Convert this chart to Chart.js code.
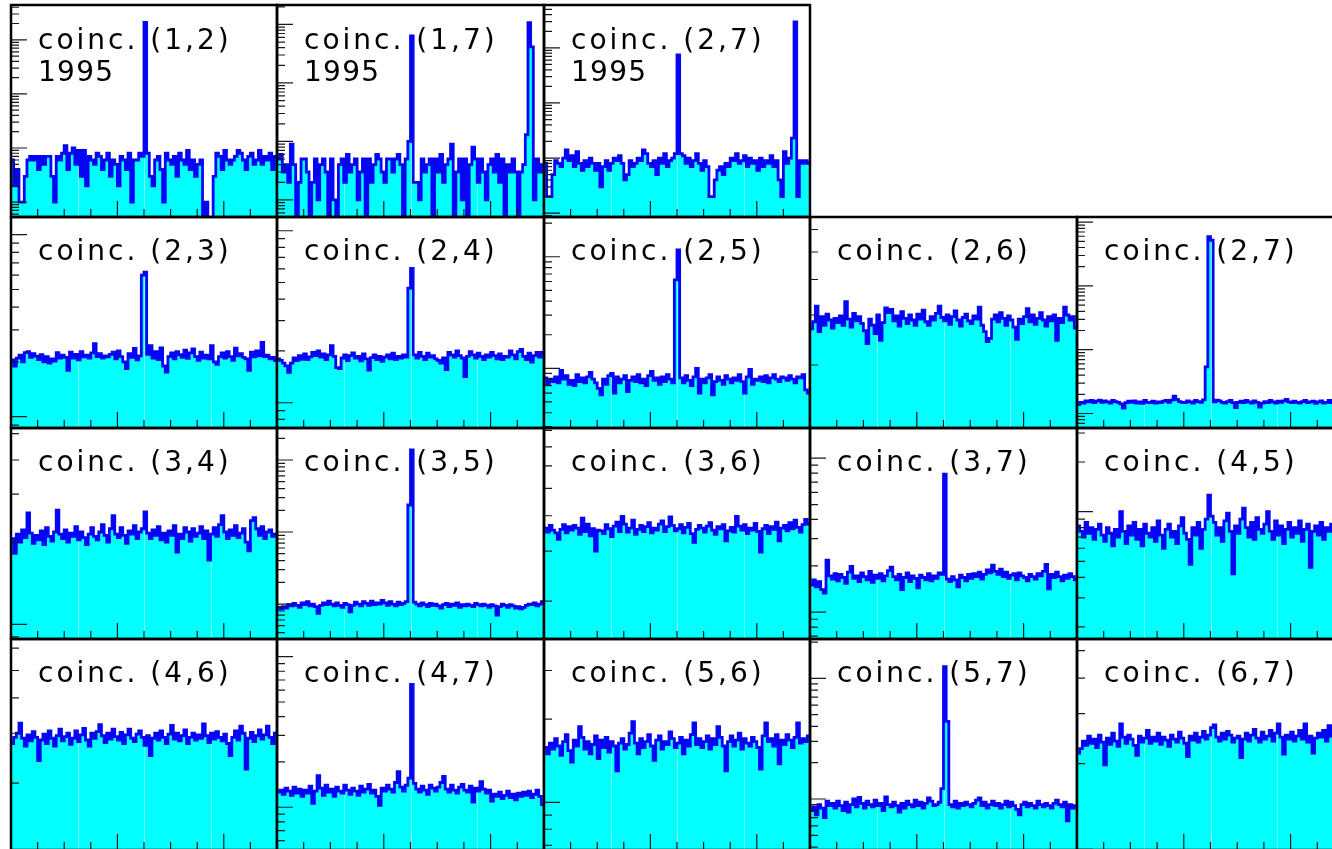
<!DOCTYPE html>
<html>
<head>
<meta charset="UTF-8" />
<title>coinc.</title>
<script src="https://cdn.jsdelivr.net/npm/chart.js"></script>
<style>
  body { margin:0; background:#fff; overflow:hidden; }
  #page { position:relative; width:1332px; height:849px; overflow:hidden; background:#fff; }
  .pad { position:absolute; }
  .label { position:absolute; font-family:"DejaVu Sans", sans-serif; font-size:28px; line-height:34px;
           letter-spacing:3px; color:#000; white-space:nowrap; }
  .year { letter-spacing:1.3px; }
</style>
</head>
<body>
<div id="page"></div>

<script>
// counts per bin (100 bins); 0 = empty bin
const h12 = [6,2,4,1,1,3,6,7,6,7, 4,7,5,7,7,3,1,7,6,8, 11,4,8,10,5,9,3,9,2,7, 6,5,8,7,4,6,8,3,6,5, 2,7,6,4,8,1,6,6,8,7,
             2100,8,3,2,6,7,4,1,8,6, 5,7,3,8,6,5,9,4,6,3, 5,6,0,1,0,0,3,8,7,4, 9,6,5,6,7,9,8,6,4,7, 8,5,6,9,5,7,6,8,4,7];
const h17 = [5,6,3,4,2,9,4,0,2,5, 5,3,0,2,5,1,4,5,3,0, 5,1,0,4,5,2,6,3,4,5, 1,3,5,0,5,2,4,6,5,3, 2,5,5,3,5,6,4,0,5,10,
             640,2,2,1,5,3,4,5,0,5, 3,6,2,4,5,9,0,3,5,1, 5,0,4,8,5,2,5,3,1,4, 5,3,6,2,5,0,4,3,5,3, 0,3,4,13,1070,415,1,5,3,4];
const h27y = [8,2,2,5,9,8,7,10,14,9, 11,7,13,8,6,9,7,10,8,6, 8,3,7,9,6,8,10,9,11,8, 4,5,9,7,8,10,9,14,12,8, 7,9,5,10,8,12,7,9,10,12,
             745,12,11,8,10,7,9,12,8,6, 9,7,2,2,4,6,7,5,8,7, 10,9,12,8,9,11,7,10,8,9, 6,10,7,9,8,11,7,9,4,2, 13,8,10,23,2970,2,9,8,9,8];
const h23 = [205,190,210,218,200,225,228,212,222,215, 206,219,200,214,197,208,202,225,210,218, 212,180,226,210,220,205,228,213,218,210,
             224,252,214,222,210,216,213,220,226,208, 230,214,200,184,222,212,237,205,216,600, 623,220,246,210,228,206,239,190,176,214,
             224,208,228,219,212,232,209,224,236,214, 204,226,210,218,208,246,200,194,214,224, 210,228,214,204,238,216,222,212,208,180,
             226,213,230,216,256,214,218,208,212,204];
const h24 = [180,176,170,164,150,170,182,176,188,179, 192,178,185,196,188,200,184,192,178,190, 215,186,160,158,182,190,176,188,195,182,
             186,175,192,180,155,183,190,178,186,174, 184,190,180,194,178,186,182,190,184,464, 604,190,182,196,186,178,194,184,188,180,
             176,170,182,156,196,190,184,200,188,182, 142,186,198,190,182,194,186,178,190,184, 196,188,180,192,178,186,184,200,190,180,
             198,204,186,178,194,172,188,196,184,196];
const h25 = [82,72,80,76,84,74,96,80,86,72, 78,70,88,76,82,74,84,92,80,74, 66,58,80,72,86,90,60,84,74,80, 86,62,78,84,76,88,74,80,70,86,
             94,78,82,72,84,76,88,80,74,620, 1150,82,74,86,78,70,84,100,60,80, 74,82,88,58,76,84,78,72,86,80, 74,82,78,88,76,60,84,98,72,80,
             78,84,76,86,74,82,88,80,76,84, 82,78,86,80,74,84,82,88,64,60];
const h26 = [268,284,322,262,296,276,302,288,270,292, 282,298,276,334,290,272,304,286,296,280, 264,238,290,276,258,300,244,282,318,306,
             314,286,298,274,308,292,280,300,288,276, 302,290,312,284,276,296,288,304,322,294, 286,300,278,296,310,288,274,294,302,286,
             280,298,290,320,276,262,242,248,290,300, 284,306,292,276,298,288,272,246,290,280, 296,316,284,300,278,292,306,288,274,296,
             286,300,244,292,282,320,300,288,296,270];
const h27 = [138,150,146,158,152,160,148,156,162,150, 158,152,146,160,154,150,142,122,148,156, 150,158,146,152,144,160,150,148,156,146,
             152,148,156,160,150,162,188,166,154,150, 148,158,152,146,160,154,150,164,540,59000, 52000,152,162,158,150,146,154,160,148,124,
             150,156,148,160,152,146,158,150,126,146, 154,148,160,152,146,156,150,158,166,152, 148,156,150,146,154,160,148,152,156,144,
             152,158,146,150,160,148,156,152,146,154];
const h34 = [206,182,214,200,222,208,256,216,198,212, 204,220,196,226,210,202,218,262,214,206, 222,200,216,210,228,204,218,208,196,214,
             226,210,204,218,232,212,200,224,250,214, 208,226,212,198,220,214,230,206,218,224, 258,216,206,222,212,228,204,216,200,220,
             212,230,184,214,206,226,218,202,224,210, 216,228,206,220,172,214,226,210,232,250, 218,206,222,212,230,208,216,224,200,186,
             240,246,224,212,228,206,218,222,210,214];
const h35 = [90,86,92,88,98,94,102,96,90,104, 98,108,94,100,92,74,96,104,98,110, 100,94,104,96,90,102,98,78,96,106,
             100,94,108,102,96,110,98,104,100,112, 104,96,108,100,94,106,98,102,108,2370, 13800,106,100,94,104,98,92,102,96,100,
             94,88,98,102,92,100,96,104,90,98, 94,100,96,92,102,98,94,100,96,90, 98,94,70,92,100,96,90,98,94,88,
             92,86,90,96,100,98,104,94,100,108];
const h36 = [362,350,370,356,348,330,358,372,348,366, 356,370,362,344,392,352,374,340,360,300, 356,354,346,372,360,338,368,380,352,398,
             374,350,362,386,344,358,370,352,366,378, 348,362,356,374,384,352,366,396,370,354, 360,372,348,364,376,346,322,358,370,362,
             350,368,378,356,344,366,360,372,326,354, 364,350,398,368,356,372,346,362,356,376, 352,298,360,370,346,366,358,380,326,362,
             370,354,378,360,386,364,350,372,388,374];
const h37 = [150,162,146,158,140,133,218,172,164,178, 160,176,168,154,182,198,166,172,158,180, 170,162,184,156,174,166,178,160,172,186,
             196,170,162,176,140,168,180,158,172,166, 144,174,168,162,178,160,172,166,180,176, 787,164,158,170,162,146,174,168,160,176,
             166,178,170,182,164,176,188,180,202,184, 176,190,170,182,166,174,178,162,180,172, 168,160,176,170,164,178,172,184,204,142,
             176,168,182,170,160,174,166,178,170,162];
const h45 = [82,76,70,86,74,80,68,78,84,72, 66,80,74,62,78,70,100,76,64,82, 72,86,68,78,62,84,74,70,80,66, 88,72,60,78,84,70,76,64,82,92,
             74,68,48,80,72,86,60,78,90,126, 94,86,72,80,66,88,98,76,42,82, 74,90,105,80,70,86,68,92,78,74, 84,100,76,68,88,72,82,64,78,86,
             70,80,74,88,66,78,84,46,76,82, 72,86,68,80,76,84,70,78,82,74];
const h46 = [276,290,300,326,288,270,296,282,304,290, 240,284,298,276,306,288,270,294,310,282, 292,300,274,288,306,280,296,312,284,270,
             300,288,304,322,294,278,300,286,310,292, 284,302,276,296,310,288,280,298,306,290, 272,294,250,288,300,284,306,290,276,298,
             320,286,300,282,294,308,276,290,300,284, 296,288,324,294,278,300,286,304,290,282, 298,276,250,290,306,284,318,300,224,288,
             302,280,294,308,286,296,318,290,276,300];
const h47 = [126,130,122,134,128,120,136,124,132,118, 130,124,138,106,128,162,134,120,140,126, 132,118,136,128,124,140,130,122,134,128,
             120,138,126,132,142,124,130,118,103,134, 128,140,132,126,146,172,136,128,140,156, 655,144,132,126,138,130,122,140,134,128,
             136,146,160,132,126,140,130,124,136,142, 130,126,138,108,134,128,148,132,124,130, 110,122,118,126,114,120,128,116,122,112,
             124,118,126,120,128,116,122,130,118,104];
const h56 = [158,150,164,156,170,160,148,166,176,154, 140,168,160,188,172,156,166,150,162,174, 144,168,158,172,152,166,160,130,164,170,
             156,162,178,196,164,150,170,158,166,176, 160,142,168,174,156,166,162,180,170,158, 164,172,150,168,160,176,194,162,170,158,
             166,174,156,170,162,188,172,160,130,166, 174,160,168,178,156,170,164,160,172,166, 158,132,174,194,166,170,160,176,138,168,
             162,176,168,158,172,194,164,170,166,174];
const h57 = [80,86,74,90,84,70,96,88,92,84, 96,88,80,94,78,90,100,86,103,92, 84,96,90,86,98,88,92,80,104,90, 86,94,88,78,92,84,96,90,86,98,
             88,94,84,92,102,96,88,90,94,122, 1250,440,90,86,96,84,92,88,94,90, 86,92,98,102,88,94,84,90,96,88, 92,84,90,96,86,94,88,82,74,90,
             94,86,92,88,84,96,90,86,92,88, 84,92,98,90,86,94,66,90,84,88];
const h67 = [218,226,240,232,250,236,244,228,252,238, 198,246,234,256,240,230,276,248,236,252, 244,232,214,250,238,246,262,236,248,240,
             256,234,248,242,230,252,244,238,258,246, 236,212,250,242,256,238,248,260,244,252, 268,274,248,240,256,244,260,252,238,246,
             250,210,244,256,240,252,264,246,238,258, 244,250,262,240,256,276,248,216,252,244, 258,240,250,262,244,276,238,250,218,246,
             256,248,262,240,272,250,244,258,246,252];

const titles = ['coinc. (1,2)','coinc. (1,7)','coinc. (2,7)',
                'coinc. (2,3)','coinc. (2,4)','coinc. (2,5)','coinc. (2,6)','coinc. (2,7)',
                'coinc. (3,4)','coinc. (3,5)','coinc. (3,6)','coinc. (3,7)','coinc. (4,5)',
                'coinc. (4,6)','coinc. (4,7)','coinc. (5,6)','coinc. (5,7)','coinc. (6,7)'];
const years = ['1995','1995','1995'];
const series = [h12,h17,h27y, h23,h24,h25,h26,h27, h34,h35,h36,h37,h45, h46,h47,h56,h57,h67];
// log y range of each pad
const yMin = [0.53,0.51,0.85, 86.7,71.3,29.2,120,59.3, 88.4,32.7,147,67,16.9, 116,52,67.3,37.8,99.4];
const yMax = [4400,2150,6000, 1251,1202,2270,664,120300, 524,27800,816,1570,321.6, 646,1310,390,2120,549];
const nBins = 100;

// pad grid
const colX = [11,277,544,810,1077,1344];
const rowY = [5,217,428,639,850];
const padRow = [0,0,0, 1,1,1,1,1, 2,2,2,2,2, 3,3,3,3,3];
const padCol = [0,1,2, 0,1,2,3,4, 0,1,2,3,4, 0,1,2,3,4];
const M = 3;

// frame + root style ticks, drawn through the chart's scales
const framePlugin = {
  id: 'frame',
  afterDatasetsDraw(chart) {
    const {ctx, chartArea: a} = chart;
    const x = chart.scales.x, y = chart.scales.y;
    const pts = chart.data.datasets[0].data;
    ctx.save();
    // faint seams in the filled area
    ctx.strokeStyle = 'rgba(255,255,255,0.45)';
    ctx.lineWidth = 1;
    [25, 50, 75].forEach(b => {
      const px = Math.round(x.getPixelForValue(b)) + 0.5;
      const top = Math.max(y.getPixelForValue(pts[b - 1].y), y.getPixelForValue(pts[b].y)) + 2;
      if (top < a.bottom) {
        ctx.beginPath(); ctx.moveTo(px, a.bottom); ctx.lineTo(px, top); ctx.stroke();
      }
    });
    ctx.strokeStyle = '#1a1a1a';
    ctx.lineWidth = 1.2;
    ctx.beginPath();
    for (let j = 1; j < 10; j++) {
      const px = x.getPixelForValue(j * nBins / 10);
      ctx.moveTo(px, a.bottom);
      ctx.lineTo(px, a.bottom - (j % 4 === 0 ? 16 : 8));
    }
    const e0 = Math.floor(Math.log10(y.min)), e1 = Math.ceil(Math.log10(y.max));
    for (let e = e0; e <= e1; e++) {
      for (let m = 1; m < 10; m++) {
        const v = m * Math.pow(10, e);
        if (v < y.min || v > y.max) continue;
        const py = y.getPixelForValue(v);
        ctx.moveTo(a.left, py);
        ctx.lineTo(a.left + (m === 1 ? 16 : 8), py);
      }
    }
    ctx.stroke();
    ctx.strokeStyle = '#000';
    ctx.lineWidth = 2.5;
    ctx.strokeRect(a.left, a.top, a.right - a.left, a.bottom - a.top);
    ctx.restore();
  }
};

const page = document.getElementById('page');

series.forEach((vals, i) => {
  const r = padRow[i], c = padCol[i];
  const left = colX[c], top = rowY[r];
  const w = colX[c + 1] - left, h = rowY[r + 1] - top;

  const box = document.createElement('div');
  box.className = 'pad';
  box.style.left = (left - M) + 'px';
  box.style.top = (top - M) + 'px';
  box.style.width = (w + 2 * M) + 'px';
  box.style.height = (h + 2 * M) + 'px';
  const cv = document.createElement('canvas');
  box.appendChild(cv);
  page.appendChild(box);

  // histogram as stepped line: one point per bin low edge + closing edge
  const floor = yMin[i] * 0.5;
  const pts = vals.map((v, k) => ({x: k, y: v > 0 ? v : floor}));
  pts.push({x: nBins, y: pts[nBins - 1].y});

  new Chart(cv, {
    type: 'line',
    data: {
      datasets: [{
        data: pts,
        stepped: true,
        borderColor: '#0505f5',
        borderWidth: 2.8,
        borderJoinStyle: 'miter',
        backgroundColor: '#00ffff',
        fill: 'start',
        pointRadius: 0,
        tension: 0
      }]
    },
    options: {
      responsive: true,
      maintainAspectRatio: false,
      animation: false,
      events: [],
      layout: { padding: M },
      plugins: { legend: { display: false }, tooltip: { enabled: false } },
      scales: {
        x: { type: 'linear', min: 0, max: nBins, display: false },
        y: { type: 'logarithmic', min: yMin[i], max: yMax[i], display: false }
      }
    },
    plugins: [framePlugin]
  });

  const t = document.createElement('div');
  t.className = 'label';
  t.textContent = titles[i];
  t.style.left = (left + 27) + 'px';
  t.style.top = (top + (r === 0 ? 18 : 17)) + 'px';
  page.appendChild(t);

  if (i < years.length) {
    const yr = document.createElement('div');
    yr.className = 'label year';
    yr.textContent = years[i];
    yr.style.left = (left + 27) + 'px';
    yr.style.top = (top + 50) + 'px';
    page.appendChild(yr);
  }
});
</script>
</body>
</html>
